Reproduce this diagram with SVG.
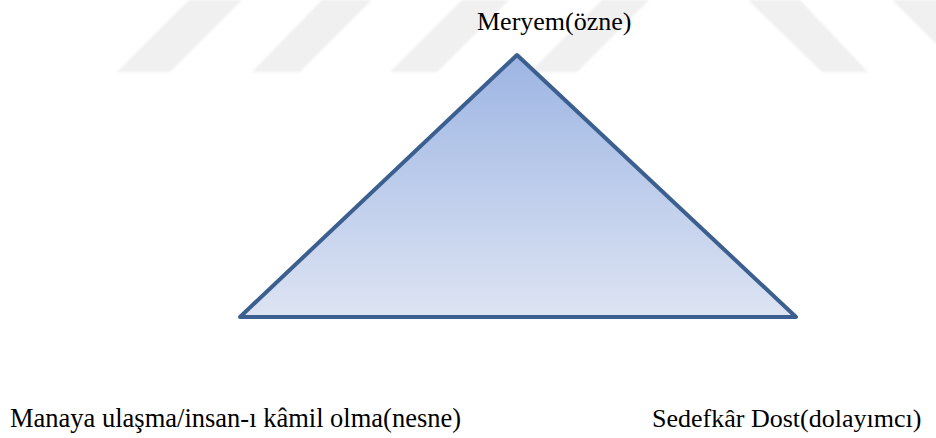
<svg xmlns="http://www.w3.org/2000/svg" width="936" height="438" viewBox="0 0 936 438">
  <style>
    .lbl { font-family: "Liberation Serif", "Times New Roman", serif; font-size: 26px; fill: #000000; }
    .wm { fill: #f0f0f0; }
  </style>
  <defs>
    <linearGradient id="triFill" x1="0" y1="0" x2="0" y2="1">
      <stop offset="0" stop-color="#9db5e3"/>
      <stop offset="1" stop-color="#dde4f3"/>
    </linearGradient>
    <filter id="soft" x="-10%" y="-10%" width="120%" height="120%">
      <feGaussianBlur stdDeviation="1"/>
    </filter>
  </defs>
  <rect width="936" height="438" fill="#ffffff"/>
  <g id="watermark" filter="url(#soft)">
    <polygon class="wm" points="117,72 170,72 242,0 189,0"/>
    <polygon class="wm" points="252,72 300,72 372,0 322,0"/>
    <polygon class="wm" points="390,72 437,72 509,0 462,0"/>
    <polygon class="wm" points="530,72 577,72 649,0 602,0"/>
    <polygon class="wm" points="748,0 800,0 868,72 822,72"/>
    <polygon class="wm" points="892,0 944,0 1016,72 964,72"/>
  </g>
  <g id="triangle">
    <polygon points="517,55 796,317 240,317" fill="url(#triFill)" stroke="#3b5f8f" stroke-width="4" stroke-linejoin="round"/>
  </g>
  <g id="node-subject">
    <text class="lbl" x="477" y="30">Meryem(özne)</text>
  </g>
  <g id="node-object">
    <text class="lbl" x="10" y="427" style="font-size:26.5px">Manaya ulaşma/insan-ı kâmil olma(nesne)</text>
  </g>
  <g id="node-mediator">
    <text class="lbl" x="652" y="427">Sedefkâr Dost(dolayımcı)</text>
  </g>
  <g id="connectors"/>
</svg>
